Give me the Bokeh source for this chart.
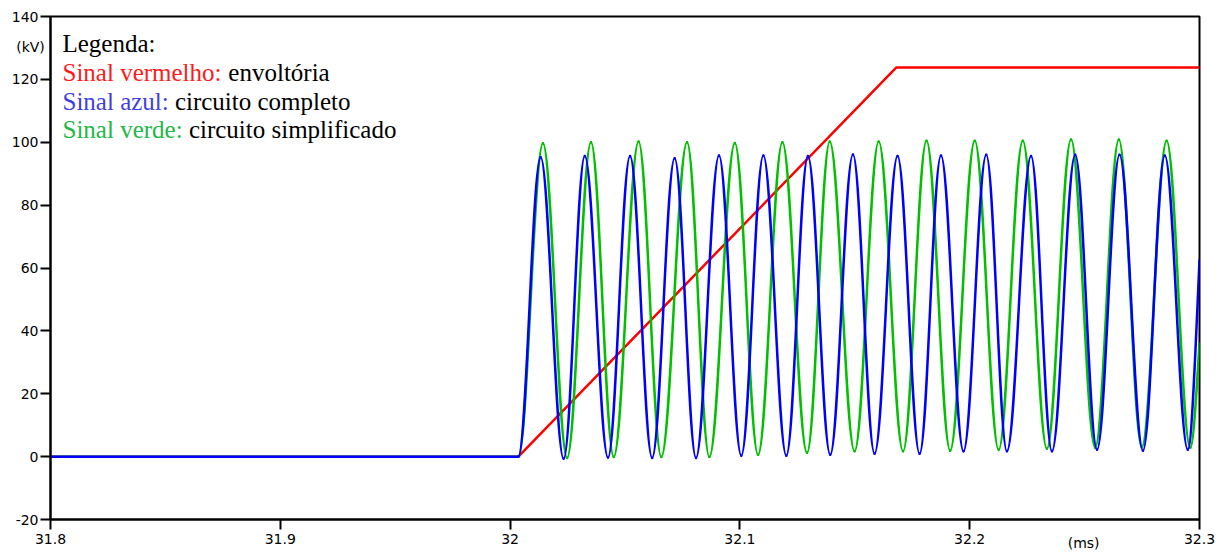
import numpy as np
from bokeh.plotting import figure
from bokeh.models import ColumnDataSource, Label, Range1d, FixedTicker
from bokeh.embed import file_html
from bokeh.resources import INLINE

# ---------------- data ----------------
x_ticks = [31.8, 31.9, 32.0, 32.1, 32.2, 32.3]
x_labels = ["31.8", "31.9", "32", "32.1", "32.2", "32.3"]
y_ticks = [-20, 0, 20, 40, 60, 80, 100, 120, 140]
y_labels = ["-20", "0", "20", "40", "60", "80", "100", "120", "140"]
x_unit = "(ms)"
y_unit = "(kV)"

# red: envelope (ms, kV)
red_t = [31.8, 32.0036, 32.1681, 32.3]
red_v = [0.0, 0.0, 123.8, 123.8]

# blue: full circuit -- start, alternating peaks / troughs, value at frame edge
blue_t = [31.8, 32.0036,
          32.0133, 32.0233, 32.0325, 32.0426, 32.0522, 32.0618, 32.0716, 32.0809,
          32.0909, 32.1006, 32.1102, 32.1202, 32.1296, 32.1393, 32.1492, 32.1586,
          32.1686, 32.1782, 32.1875, 32.1973, 32.2072, 32.2162, 32.2267, 32.2358,
          32.2459, 32.2554, 32.2652, 32.2754, 32.2849, 32.2949,
          32.3]
blue_v = [0.0, 0.0,
          95.2, -0.7, 95.6, -0.3, 95.6, -0.4, 94.9, -0.4,
          95.8, 0.3, 95.8, 0.3, 95.6, 0.6, 96.1, 0.9,
          95.6, 0.9, 95.8, 1.7, 96.0, 1.7, 95.6, 1.7,
          96.0, 2.2, 96.0, 1.9, 95.8, 2.2,
          62.5]

# green: simplified circuit -- start, alternating peaks / troughs, value at frame edge
green_t = [31.8, 32.0036,
           32.0143, 32.0248, 32.0352, 32.0451, 32.0559, 32.0658, 32.0770, 32.0867,
           32.0978, 32.1079, 32.1185, 32.1292, 32.1391, 32.1499, 32.1604, 32.1710,
           32.1812, 32.1915, 32.2022, 32.2126, 32.2231, 32.2336, 32.2441, 32.2546,
           32.2649, 32.2749, 32.2857, 32.2960,
           32.3]
green_v = [0.0, 0.0,
           99.7, -0.4, 100.0, -0.1, 100.2, -0.1, 100.0, -0.1,
           99.8, 0.6, 100.0, 1.2, 100.2, 1.7, 100.2, 1.7,
           100.5, 1.9, 100.5, 2.2, 100.5, 2.5, 100.9, 2.8,
           100.9, 3.0, 100.5, 2.8,
           36.0]

# ---------------- smooth drawing through the read extremes ----------------
K = 1 - 2 / np.pi  # cubic-bezier handle for a half-cosine swing


def swing_source(t, v, tail=0.46):
    t = np.asarray(t, dtype=float)
    v = np.asarray(v, dtype=float)
    t0, t1, v0, v1 = t[:-1], t[1:], v[:-1], v[1:]
    dt = t1 - t0
    cx0 = t0 + K * dt
    cx1 = t1 - K * dt
    cy0 = v0.copy()
    cy1 = v1.copy()
    # last piece stops mid-swing at the frame edge
    cx0[-1] = t0[-1] + dt[-1] / 3
    cx1[-1] = t1[-1] - dt[-1] / 3
    cy1[-1] = v1[-1] - tail * (v1[-1] - v0[-1])
    return ColumnDataSource(dict(x0=t0, y0=v0, x1=t1, y1=v1,
                                 cx0=cx0, cy0=cy0, cx1=cx1, cy1=cy1))


p = figure(width=1228, height=554,
           x_range=Range1d(31.8, 32.3), y_range=Range1d(-20, 140),
           output_backend="svg", toolbar_location=None,
           min_border_left=50, min_border_right=28,
           min_border_top=15, min_border_bottom=35)
p.background_fill_color = "white"
p.border_fill_color = "white"
p.outline_line_color = "black"
p.outline_line_width = 2
p.outline_line_alpha = 1
p.xgrid.visible = False
p.ygrid.visible = False

TICK_FONT = "DejaVu Sans"
for ax in (p.xaxis[0], p.yaxis[0]):
    ax.axis_line_width = 2
    ax.axis_line_color = "black"
    ax.major_tick_line_color = "black"
    ax.major_tick_line_width = 2
    ax.major_tick_in = 0
    ax.major_tick_out = 10
    ax.minor_tick_line_color = None
    ax.major_label_text_font = TICK_FONT
    ax.major_label_text_font_size = "14px"
    ax.major_label_text_color = "black"

p.xaxis.ticker = FixedTicker(ticks=x_ticks)
p.yaxis.ticker = FixedTicker(ticks=y_ticks)
p.xaxis.major_label_overrides = dict(zip(x_ticks, x_labels))
p.yaxis.major_label_overrides = dict(zip(y_ticks, y_labels))
p.xaxis.major_label_standoff = 4
p.yaxis.major_label_standoff = 2

p.line(red_t, red_v, line_color="#FF0000", line_width=2.5)
p.bezier(x0="x0", y0="y0", x1="x1", y1="y1", cx0="cx0", cy0="cy0",
         cx1="cx1", cy1="cy1", source=swing_source(green_t, green_v),
         line_color="#00C000", line_width=2.5, line_cap="round")
p.bezier(x0="x0", y0="y0", x1="x1", y1="y1", cx0="cx0", cy0="cy0",
         cx1="cx1", cy1="cy1", source=swing_source(blue_t, blue_v),
         line_color="#0000FF", line_width=2.5, line_cap="round")

# pixel -> data helpers for text placement (frame as laid out: x 50..1200, y 17..519)
FL, FR, FT, FB = 50.0, 1200.0, 17.0, 519.0


def X(px):
    return 31.8 + (px - FL) * 0.5 / (FR - FL)


def Y(py):
    return 140 - (py - FT) * 160.0 / (FB - FT)


# axis unit labels: kept in the side panels (spare border room) so that
# they are not clipped to the plotting frame; placed with data coordinates
p.add_layout(Label(x=X(30), y=Y(47), text=y_unit, text_font=TICK_FONT,
                   text_font_size="14px", text_align="center",
                   text_baseline="middle", text_color="black"), "right")
p.add_layout(Label(x=X(1084), y=Y(542), text=x_unit, text_font=TICK_FONT,
                   text_font_size="14px", text_align="center",
                   text_baseline="middle", text_color="black"), "above")

# legend text
SERIF = "Liberation Serif"
legend_rows = [
    (62, 44, "Legenda:", "black", None, None),
    (62, 73, "Sinal vermelho:", "#FF1A1A", 228, "envoltória"),
    (62, 102, "Sinal azul:", "#4040E0", 174.5, "circuito completo"),
    (62, 130, "Sinal verde:", "#22B845", 188.5, "circuito simplificado"),
]
for x1, yb, t1, c1, x2, t2 in legend_rows:
    p.add_layout(Label(x=X(x1), y=Y(yb), text=t1, text_font=SERIF,
                       text_font_size="25px", text_color=c1,
                       text_baseline="alphabetic", text_align="left"))
    if t2:
        p.add_layout(Label(x=X(x2), y=Y(yb), text=t2, text_font=SERIF,
                           text_font_size="25px", text_color="black",
                           text_baseline="alphabetic", text_align="left"))

open("out.html", "w").write(file_html(p, INLINE))
